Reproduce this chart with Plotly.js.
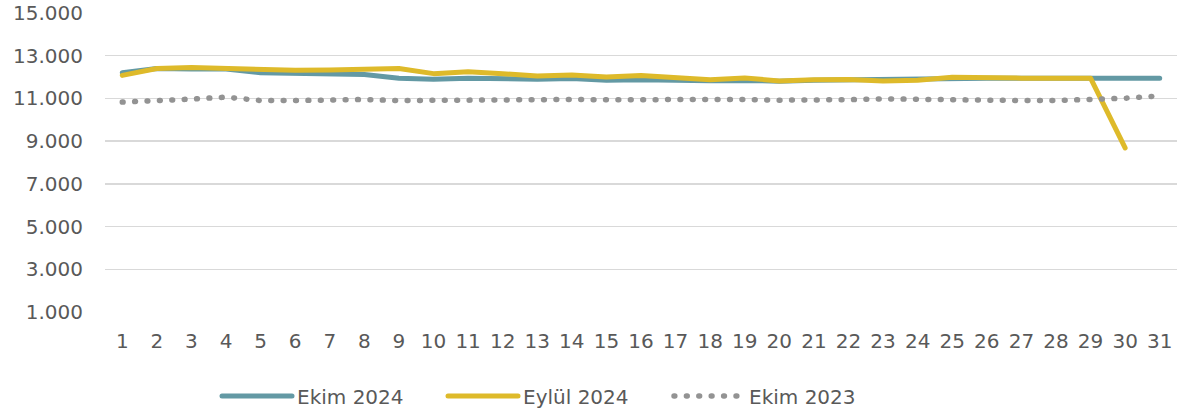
<!DOCTYPE html>
<html>
<head>
<meta charset="utf-8">
<script src="https://cdn.plot.ly/plotly-3.0.1.min.js"></script>
<style>
  html, body { margin: 0; padding: 0; background: #fff; }
  #chart { width: 1185px; height: 416px; }
  .scatterlayer path.js-line, .legendlines path {
    stroke-linecap: round !important;
    stroke-linejoin: round !important;
  }
</style>
</head>
<body>
<div id="chart"></div>
<script>
const days = Array.from({length: 31}, (_, i) => i + 1);
const dayLabels = days.map(String);

const ekim2024 = [12200, 12400, 12380, 12380, 12200, 12160, 12160, 12120, 11950, 11900,
                  11950, 11900, 11900, 11930, 11850, 11880, 11830, 11830, 11840, 11810,
                  11850, 11880, 11890, 11920, 11950, 11950, 11950, 11950, 11950, 11900, 11950];

const eylul2024 = [12080, 12400, 12450, 12400, 12350, 12320, 12330, 12370, 12400, 12160,
                   12250, 12160, 12050, 12100, 12000, 12070, 12000, 11880, 11960, 11820,
                   11870, 11890, 11820, 11850, 11990, 11950, 11950, 11950, 11950, 8680];

const ekim2023 = [10830, 10930, 10970, 11060, 10900, 10900, 10950, 10950, 10900, 10920,
                  10950, 10930, 10950, 10950, 10940, 10950, 10960, 10980, 10950, 10920,
                  10900, 10940, 10980, 10950, 10940, 10920, 10900, 10900, 10950, 11010, 11120];

const yTicks = [1000, 3000, 5000, 7000, 9000, 11000, 13000, 15000];

const FONT = "DejaVu Sans, Arial, sans-serif";
const TXT = "#595959";

const traces = [
  {x: days, y: ekim2024, name: "Ekim 2024", type: "scatter", mode: "lines",
   line: {color: "#6399A4", width: 5}},
  {x: days, y: eylul2024, name: "Eylül 2024", type: "scatter", mode: "lines",
   line: {color: "#DEBA2A", width: 5}},
  {x: days, y: ekim2023, name: "Ekim 2023", type: "scatter", mode: "lines",
   line: {color: "#939393", width: 5.5, dash: "0.8px,11.6px"}}
];

const layout = {
  width: 1185, height: 416,
  margin: {l: 105, r: 8, t: 13, b: 104, pad: 0, autoexpand: false},
  paper_bgcolor: "#ffffff", plot_bgcolor: "#ffffff",
  separators: ",.",
  font: {family: FONT, size: 20, color: TXT},
  showlegend: true,
  hovermode: false,
  xaxis: {
    type: "linear", range: [0.5, 31.5],
    tickmode: "array", tickvals: days, ticktext: dayLabels,
    showgrid: false, zeroline: false, showline: false, ticks: "",
    tickfont: {family: FONT, size: 20, color: TXT},
    ticklabelstandoff: 15
  },
  yaxis: {
    range: [1000, 15000],
    tickmode: "array", tickvals: yTicks,
    tickformat: ",d",
    showgrid: true, gridcolor: "#D9D9D9", gridwidth: 1.5,
    zeroline: false, showline: false, ticks: "",
    tickfont: {family: FONT, size: 20, color: TXT},
    ticklabelstandoff: 21
  },
  legend: {
    orientation: "h",
    x: 0.1045, xanchor: "left",
    yref: "container",
    y: 0.048, yanchor: "middle",
    itemwidth: 70,
    entrywidth: 141,
    font: {family: FONT, size: 20, color: TXT},
    bgcolor: "rgba(0,0,0,0)", borderwidth: 0,
    traceorder: "normal"
  }
};

Plotly.newPlot("chart", traces, layout, {displayModeBar: false, staticPlot: true});
</script>
</body>
</html>
